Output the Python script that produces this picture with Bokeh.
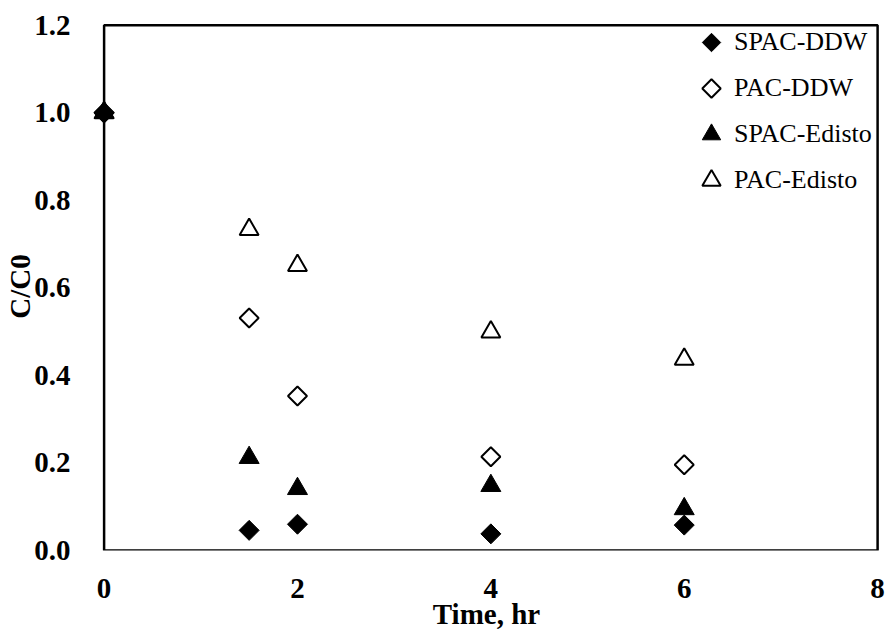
import math
from bokeh.plotting import figure
from bokeh.models import (ColumnDataSource, Range1d, FixedTicker, NumeralTickFormatter,
                          Legend, LegendItem)
from bokeh.embed import file_html
from bokeh.resources import INLINE

# Sampling times (hr) and normalized concentration C/C0 for each series
time_hr = [0, 1.5, 2, 4, 6]
spac_ddw = [1.0, 0.046, 0.060, 0.038, 0.058]
pac_ddw = [1.0, 0.531, 0.353, 0.214, 0.196]
spac_edisto = [1.0, 0.212, 0.141, 0.148, 0.095]
pac_edisto = [1.0, 0.733, 0.651, 0.499, 0.437]

x_ticks = [0, 2, 4, 6, 8]
y_ticks = [0.0, 0.2, 0.4, 0.6, 0.8, 1.0, 1.2]

SERIF = "Liberation Serif"

# Small pad around the axis box so markers on x = 0 are drawn whole
x_pad_lo, x_pad_hi, y_pad_hi = 0.12, 0.03, 0.006

p = figure(width=889, height=632, output_backend="svg", toolbar_location=None,
           x_range=Range1d(x_ticks[0] - x_pad_lo, x_ticks[-1] + x_pad_hi),
           y_range=Range1d(y_ticks[0], y_ticks[-1] + y_pad_hi),
           min_border_left=92, min_border_right=9, min_border_top=22, min_border_bottom=80)
p.background_fill_color = "white"
p.border_fill_color = "white"
p.outline_line_color = None
p.xgrid.visible = False
p.ygrid.visible = False

for ax in (p.xaxis[0], p.yaxis[0]):
    ax.axis_line_color = None
    ax.major_tick_line_color = None
    ax.minor_tick_line_color = None
    ax.major_label_text_font = SERIF
    ax.major_label_text_font_style = "bold"
    ax.major_label_text_font_size = "29px"
    ax.major_label_text_color = "black"
    ax.axis_label_text_font = SERIF
    ax.axis_label_text_font_style = "bold"
    ax.axis_label_text_font_size = "29px"
    ax.axis_label_text_color = "black"

p.xaxis.ticker = FixedTicker(ticks=x_ticks)
p.yaxis.ticker = FixedTicker(ticks=y_ticks)
p.yaxis.formatter = NumeralTickFormatter(format="0.0")
p.xaxis.axis_label = "Time, hr"
p.yaxis.axis_label = "C/C0"
p.xaxis.major_label_standoff = 22
p.yaxis.major_label_standoff = 16
p.xaxis.axis_label_standoff = -3
p.yaxis.axis_label_standoff = -5

# Plot-area box spanning the full axis extent
p.quad(left=x_ticks[0], right=x_ticks[-1], bottom=y_ticks[0], top=y_ticks[-1],
       fill_color=None, line_color="black", line_width=2.5)

src = ColumnDataSource(dict(t=time_hr, spac_ddw=spac_ddw, pac_ddw=pac_ddw,
                            spac_edisto=spac_edisto, pac_edisto=pac_edisto))

# Filled and open (no fill) markers, drawn in series order
r1 = p.ngon("t", "spac_ddw", source=src, radius=10, radius_units="screen", n=4,
            fill_color="black", line_color="black", line_width=1)
r2 = p.ngon("t", "pac_ddw", source=src, radius=9.5, radius_units="screen", n=4,
            fill_color=None, line_color="black", line_width=2)
r3 = p.scatter("t", "spac_edisto", source=src, marker="triangle",
               size=20, fill_color="black", line_color="black", line_width=1)
r4 = p.scatter("t", "pac_edisto", source=src, marker="triangle",
               size=19, fill_color=None, line_color="black", line_width=2)

legend = Legend(items=[
    LegendItem(label="SPAC-DDW", renderers=[r1]),
    LegendItem(label="PAC-DDW", renderers=[r2]),
    LegendItem(label="SPAC-Edisto", renderers=[r3]),
    LegendItem(label="PAC-Edisto", renderers=[r4]),
], location=(596, 347))
legend.label_text_font = SERIF
legend.label_text_font_size = "26px"
legend.label_text_color = "black"
legend.glyph_width = 46
legend.glyph_height = 46
legend.label_height = 46
legend.spacing = 0
legend.padding = 0
legend.margin = 0
legend.label_standoff = 0
legend.border_line_color = None
legend.background_fill_alpha = 0
p.add_layout(legend)

open("out.html", "w").write(file_html(p, INLINE))
